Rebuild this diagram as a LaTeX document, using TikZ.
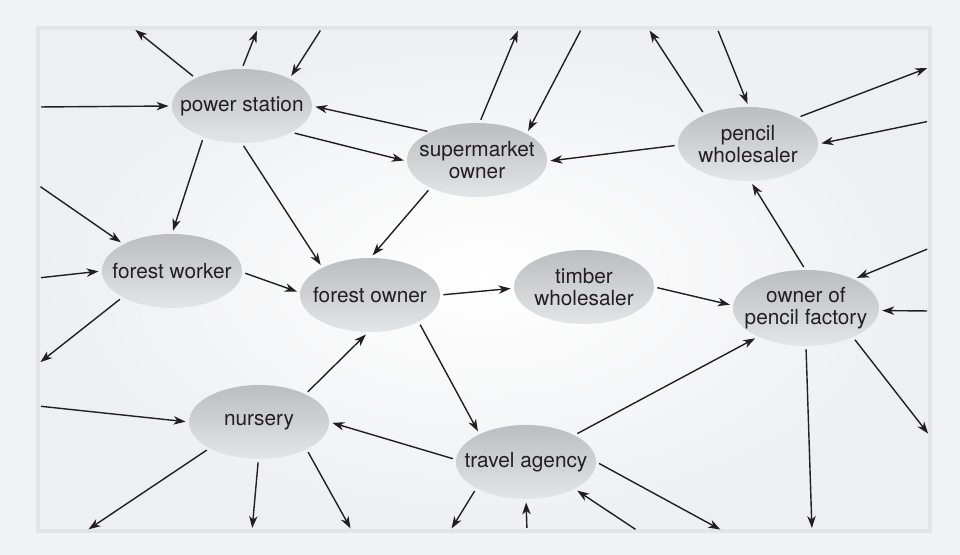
\documentclass[tikz,border=0pt]{standalone}
\usepackage{fontspec}
\setmainfont{TeX Gyre Heros}
\usetikzlibrary{arrows.meta,shapes.geometric}
\definecolor{ink}{HTML}{231F20}
\definecolor{pagebg}{HTML}{F1F2F4}
\definecolor{framegray}{HTML}{E3E4E6}
\definecolor{panelout}{HTML}{EEEFF1}
\definecolor{bubbletop}{HTML}{BCBDC0}
\definecolor{bubblebot}{HTML}{E4E5E7}
\tikzset{
  actor/.style={ellipse, top color=bubbletop, bottom color=bubblebot, minimum width=70pt, minimum height=37pt,
    inner xsep=-8pt, inner ysep=-6pt, align=center, text=ink, font=\fontsize{10.4}{11}\selectfont},
  flow/.style={draw=ink, line width=0.7pt, -{Stealth[length=6pt,width=4.2pt,inset=1.8pt]},
    shorten >=1.5pt, shorten <=1.5pt},
}

\begin{document}
\begin{tikzpicture}[x=0.5pt,y=-0.5pt]
		%%%%% START %%%%%
		
		\useasboundingbox (0,0) rectangle (960,555);
		\fill[pagebg] (0,0) rectangle (960,555);
		\draw[framegray, line width=2pt, inner color=white, outer color=panelout] (38,28) rectangle (930,531);
		
		% the actors
		\node[actor] (power) at (242,106) {power station};
		\node[actor] (market) at (477,160) {supermarket\\owner};
		\node[actor] (pencilw) at (748,144) {pencil\\wholesaler};
		\node[actor] (fworker) at (172,271) {forest worker};
		\node[actor] (fowner) at (370,295) {forest owner};
		\node[actor] (timber) at (584,287) {timber\\wholesaler};
		\node[actor, minimum width=73pt, minimum height=38pt] (factory) at (806,308) {owner of\\pencil factory};
		\node[actor] (nursery) at (259,422) {nursery};
		\node[actor] (travel) at (526,462) {travel agency};
		
		% loose ends on the frame
		\coordinate (top1) at (133,28);
		\coordinate (top2) at (258,28);
		\coordinate (top3) at (322,28);
		\coordinate (top4) at (519,28);
		\coordinate (top5) at (582,28);
		\coordinate (top6) at (648,28);
		\coordinate (top7) at (717,28);
		\coordinate (left1) at (38,107);
		\coordinate (left2) at (38,185);
		\coordinate (left3) at (38,278);
		\coordinate (left4) at (38,364);
		\coordinate (left5) at (38,406);
		\coordinate (right1) at (930,67);
		\coordinate (right2) at (930,121);
		\coordinate (right3) at (930,248);
		\coordinate (right4) at (930,311);
		\coordinate (right5) at (930,436);
		\coordinate (bot1) at (86,531);
		\coordinate (bot2) at (252,531);
		\coordinate (bot3) at (352,531);
		\coordinate (bot4) at (450,531);
		\coordinate (bot5) at (527,531);
		\coordinate (bot6) at (638,531);
		\coordinate (bot7) at (723,531);
		\coordinate (bot8) at (812,531);
		
		% power station
		\draw[flow] (power.149) -- (top1);
		\draw[flow] (power.90) -- (top2);
		\draw[flow] (top3) -- (power.30);
		\draw[flow] (left1) -- (power.180);
		\draw[flow] (market.149) -- (power.0);
		\draw[flow] (power.332) -- (market.181);
		\draw[flow] (power.219) -- (fworker.90);
		\draw[flow] (power.270) -- (fowner.150);
		
		% supermarket owner and pencil wholesaler
		\draw[flow] (market.211) -- (fowner.89);
		\draw[flow] (market.86) -- (top4);
		\draw[flow] (top5) -- (market.28);
		\draw[flow] (pencilw.146) -- (top6);
		\draw[flow] (top7) -- (pencilw.89);
		\draw[flow] (pencilw.28) -- (right1);
		\draw[flow] (right2) -- (pencilw.0);
		\draw[flow] (pencilw.181) -- (market.359);
		
		% forest worker and forest owner
		\draw[flow] (left2) -- (fworker.151);
		\draw[flow] (left3) -- (fworker.180);
		\draw[flow] (fworker.359) -- (fowner.178);
		\draw[flow] (fworker.208) -- (left4);
		\draw[flow] (fowner.0) -- (timber.181);
		\draw[flow] (fowner.331) -- (travel.149);
		
		% owner of pencil factory
		\draw[flow] (timber.0) -- (factory.178);
		\draw[flow] (factory.91) -- (pencilw.274);
		\draw[flow] (right3) -- (factory.31);
		\draw[flow] (right4) -- (factory.358);
		\draw[flow] (factory.328) -- (right5);
		\draw[flow] (factory.270) -- (bot8);
		
		% nursery
		\draw[flow] (left5) -- (nursery.180);
		\draw[flow] (nursery.31) -- (fowner.267);
		\draw[flow] (nursery.208) -- (bot1);
		\draw[flow] (nursery.269) -- (bot2);
		\draw[flow] (nursery.330) -- (bot3);
		
		% travel agency
		\draw[flow] (travel.178) -- (nursery.0);
		\draw[flow] (travel.29) -- (factory.211);
		\draw[flow] (travel.208) -- (bot4);
		\draw[flow] (travel.0) -- (bot7);
		\draw[flow] (bot6) -- (travel.331);
		\draw[flow] (bot5) -- (travel.270);
		
		%%%%% END %%%%%
\end{tikzpicture}
\end{document}
